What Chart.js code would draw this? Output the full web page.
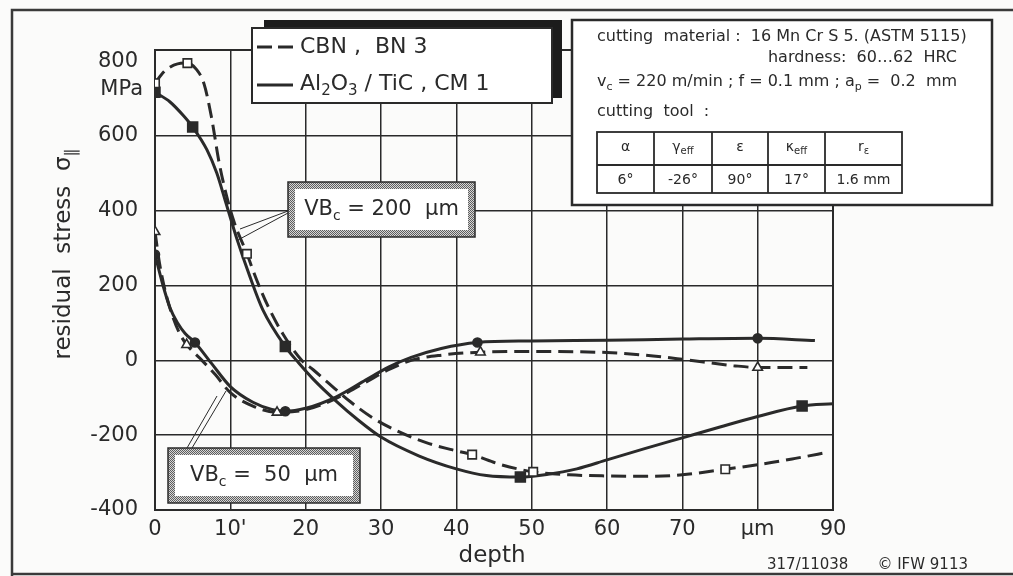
<!DOCTYPE html>
<html>
<head>
<meta charset="utf-8">
<title>Residual stress vs depth</title>
<script src="https://cdn.jsdelivr.net/npm/chart.js@4.4.1/dist/chart.umd.min.js"></script>
<style>
  html, body { margin: 0; padding: 0; background: #fbfbfa; }
  #wrap { width: 1013px; height: 576px; }
</style>
</head>
<body>
<div id="wrap"><canvas id="stressChart" width="1013" height="576"></canvas></div>
<script>
// depth axis labels (80 carries the unit)
const depthTicks = [0, 10, 20, 30, 40, 50, 60, 70, 80, 90];
const depthTickLabels = ['0', "10'", '20', '30', '40', '50', '60', '70', 'µm', '90'];
// stress axis labels
const stressTicks = [-400, -200, 0, 200, 400, 600, 800];

// CBN, BN 3 at VBc = 200 µm (dashed, open squares)
const cbn200Depth  = [0, 1.2, 3, 4.3, 5.5, 6.5, 7.5, 8.5, 9.5, 10.5, 12.2, 13.5, 15, 17, 19.5, 21, 23, 25.9, 29, 32.5, 36, 39.2, 42.1, 45.8, 50.2, 55, 60, 65, 70, 75.7, 80.7, 85, 89.5];
const cbn200Stress = [741, 772, 793, 795, 778, 740, 650, 530, 440, 370, 285, 215, 145, 70, 0, -25, -60, -110, -155, -192, -220, -238, -252, -278, -298, -306, -309, -310, -306, -291, -277, -262, -245];
const cbn200Marks  = [0, 3, 10, 22, 24, 29];

// Al2O3/TiC, CM 1 at VBc = 200 µm (solid, filled squares)
const al200Depth  = [0, 2, 3.7, 5, 6.9, 8.2, 9.3, 10.9, 12.6, 14.3, 17.3, 19, 21, 24, 27, 30, 35, 40, 44, 48.5, 52, 56, 60, 65, 70, 75, 80, 85.9, 90];
const al200Stress = [717, 691, 656, 624, 563, 501, 429, 323, 224, 136, 37, -5, -50, -108, -160, -205, -255, -290, -308, -312, -305, -290, -266, -236, -207, -178, -150, -122, -116];
const al200Marks  = [0, 3, 10, 19, 27];

// CBN, BN 3 at VBc = 50 µm (dashed, open triangles)
const cbn50Depth  = [0, 0.6, 1.3, 2.3, 3.2, 4.2, 6, 8, 10, 13, 16.2, 20, 24, 28, 31, 34, 38, 43.2, 50, 60, 65, 70, 76.8, 80, 86.6];
const cbn50Stress = [344, 260, 190, 120, 75, 42, 5, -38, -86, -122, -139, -132, -102, -58, -25, 0, 14, 22, 24, 21, 14, 3, -14, -19, -19];
const cbn50Marks  = [0, 5, 10, 17, 23];

// Al2O3/TiC, CM 1 at VBc = 50 µm (solid, filled circles)
const al50Depth  = [0, 1, 2, 3, 4, 5.3, 7.5, 10, 13, 15.5, 17.3, 20, 24, 28, 31, 34, 38, 42.8, 50, 60, 70, 80, 87.6];
const al50Stress = [283, 205, 140, 100, 72, 48, -8, -70, -112, -131, -136, -128, -98, -52, -18, 8, 32, 48, 52, 54, 57, 59, 53];
const al50Marks  = [0, 5, 10, 17, 21];

// tool parameter table
const toolHeads  = [['α'], ['γ', 'eff'], ['ε'], ['κ', 'eff'], ['r', 'ε']];
const toolValues = ['6°', '-26°', '90°', '17°', '1.6 mm'];

const INK = '#2a2a2a';
const FONT = 'DejaVu Sans';

function toPoints(xs, ys) {
  return xs.map((x, i) => ({ x: x, y: ys[i] }));
}

function markRadius(xs, marks, r) {
  return xs.map((x, i) => marks.indexOf(i) >= 0 ? r : 0);
}

function curve(label, xs, ys, marks, style, filled, r, dashed) {
  return {
    label: label,
    data: toPoints(xs, ys),
    borderColor: INK,
    borderWidth: 3,
    borderDash: dashed ? [15, 7] : [],
    cubicInterpolationMode: 'monotone',
    fill: false,
    pointStyle: style,
    pointRadius: markRadius(xs, marks, r),
    pointHoverRadius: 0,
    pointBackgroundColor: filled ? INK : '#ffffff',
    pointBorderColor: INK,
    pointBorderWidth: 1.6
  };
}

// text with subscripts: parts = [[text, 'sub'?], ...]
function richWidth(ctx, parts, size) {
  let w = 0;
  parts.forEach(p => {
    ctx.font = (p[1] === 'sub' ? Math.round(size * 0.68) : size) + 'px ' + FONT;
    w += ctx.measureText(p[0]).width;
  });
  return w;
}

function drawRich(ctx, parts, x, y, size, align) {
  ctx.save();
  ctx.textBaseline = 'middle';
  ctx.textAlign = 'left';
  let cx = x;
  if (align === 'center') cx = x - richWidth(ctx, parts, size) / 2;
  if (align === 'right') cx = x - richWidth(ctx, parts, size);
  parts.forEach(p => {
    const sub = p[1] === 'sub';
    ctx.font = (sub ? Math.round(size * 0.68) : size) + 'px ' + FONT;
    ctx.fillText(p[0], cx, sub ? y + size * 0.32 : y);
    cx += ctx.measureText(p[0]).width;
  });
  ctx.restore();
}

function stipple(ctx) {
  const c = document.createElement('canvas');
  c.width = 2; c.height = 2;
  const g = c.getContext('2d');
  g.fillStyle = '#d6d6d6'; g.fillRect(0, 0, 2, 2);
  g.fillStyle = '#5e5e5e'; g.fillRect(0, 0, 1, 1); g.fillRect(1, 1, 1, 1);
  return ctx.createPattern(c, 'repeat');
}

function labelBox(ctx, x, y, w, h, parts) {
  ctx.save();
  ctx.fillStyle = stipple(ctx);
  ctx.fillRect(x, y, w, h);
  ctx.fillStyle = '#ffffff';
  ctx.fillRect(x + 7, y + 7, w - 14, h - 14);
  ctx.strokeStyle = INK;
  ctx.lineWidth = 1.5;
  ctx.strokeRect(x, y, w, h);
  ctx.fillStyle = INK;
  drawRich(ctx, parts, x + w / 2, y + h / 2, 21, 'center');
  ctx.restore();
}

function pointer(ctx, x0, y0, x1, y1) {
  ctx.beginPath();
  ctx.moveTo(x0, y0);
  ctx.lineTo(x1, y1);
  ctx.stroke();
}

const figureDecor = {
  id: 'figureDecor',
  beforeDraw(chart) {
    const ctx = chart.ctx;
    ctx.save();
    ctx.fillStyle = '#fbfbfa';
    ctx.fillRect(0, 0, chart.width, chart.height);
    // outer figure frame
    ctx.strokeStyle = '#3a3a3a';
    ctx.lineWidth = 2.5;
    ctx.beginPath();
    ctx.moveTo(1013, 10); ctx.lineTo(12, 10); ctx.lineTo(12, 576);
    ctx.moveTo(12, 574); ctx.lineTo(1013, 574);
    ctx.stroke();
    ctx.restore();
  },
  beforeDatasetsDraw(chart) {
    const ctx = chart.ctx, a = chart.chartArea;
    ctx.save();
    ctx.strokeStyle = INK;
    ctx.lineWidth = 2;
    ctx.strokeRect(a.left, a.top, a.right - a.left, a.bottom - a.top);
    ctx.restore();
  },
  afterDraw(chart) {
    const ctx = chart.ctx;
    ctx.save();
    ctx.fillStyle = INK;
    ctx.strokeStyle = INK;

    // axis titles and unit
    drawRich(ctx, [['MPa']], 143, 90, 21, 'right');
    drawRich(ctx, [['depth']], 492, 556, 23, 'center');
    ctx.save();
    ctx.translate(64, 254);
    ctx.rotate(-Math.PI / 2);
    drawRich(ctx, [['residual  stress  σ'], ['∥', 'sub']], 0, 0, 23, 'center');
    ctx.restore();

    // legend box with heavy shadow
    ctx.fillStyle = '#1c1c1c';
    ctx.fillRect(264, 20, 298, 78);
    ctx.fillStyle = '#ffffff';
    ctx.fillRect(252, 28, 300, 75);
    ctx.lineWidth = 2;
    ctx.strokeRect(252, 28, 300, 75);
    ctx.lineWidth = 3;
    ctx.setLineDash([15, 6]);
    pointer(ctx, 257, 47, 293, 47);
    ctx.setLineDash([]);
    pointer(ctx, 257, 85, 293, 85);
    ctx.fillStyle = INK;
    drawRich(ctx, [['CBN ,  BN 3']], 300, 47, 22, 'left');
    drawRich(ctx, [['Al'], ['2', 'sub'], ['O'], ['3', 'sub'], [' / TiC , CM 1']], 300, 84, 22, 'left');

    // cutting conditions box
    ctx.fillStyle = '#ffffff';
    ctx.fillRect(572, 20, 420, 185);
    ctx.lineWidth = 2.5;
    ctx.strokeRect(572, 20, 420, 185);
    ctx.fillStyle = INK;
    drawRich(ctx, [['cutting  material :  16 Mn Cr S 5. (ASTM 5115)']], 597, 37, 16, 'left');
    drawRich(ctx, [['hardness:  60…62  HRC']], 957, 58, 16, 'right');
    drawRich(ctx, [['v'], ['c', 'sub'], [' = 220 m/min ; f = 0.1 mm ; a'], ['p', 'sub'], [' =  0.2  mm']], 597, 82, 16, 'left');
    drawRich(ctx, [['cutting  tool  :']], 597, 112, 16, 'left');

    const cols = [597, 654, 712, 768, 825, 902];
    const rows = [132, 165, 193];
    ctx.lineWidth = 1.8;
    ctx.strokeRect(cols[0], rows[0], cols[5] - cols[0], rows[2] - rows[0]);
    pointer(ctx, cols[0], rows[1], cols[5], rows[1]);
    for (let i = 1; i < 5; i++) pointer(ctx, cols[i], rows[0], cols[i], rows[2]);
    toolHeads.forEach((h, i) => {
      const cx = (cols[i] + cols[i + 1]) / 2;
      const parts = [[h[0]]];
      if (h[1]) parts.push([h[1], 'sub']);
      drawRich(ctx, parts, cx, 147, 14, 'center');
      drawRich(ctx, [[toolValues[i]]], cx, 180, 14, 'center');
    });

    // VBc labels with pointers to their curve pairs
    ctx.lineWidth = 1;
    pointer(ctx, 288, 211, 240, 229);
    pointer(ctx, 288, 213, 238, 240);
    pointer(ctx, 187, 448, 217, 396);
    pointer(ctx, 192, 448, 226, 391);
    labelBox(ctx, 288, 182, 187, 55, [['VB'], ['c', 'sub'], [' = 200  µm']]);
    labelBox(ctx, 168, 448, 192, 55, [['VB'], ['c', 'sub'], [' =  50  µm']]);

    // figure reference
    ctx.fillStyle = INK;
    drawRich(ctx, [['317/11038']], 767, 565, 15, 'left');
    drawRich(ctx, [['© IFW 9113']], 968, 565, 15, 'right');
    ctx.restore();
  }
};

const stressChart = new Chart(document.getElementById('stressChart'), {
  type: 'line',
  data: {
    datasets: [
      curve('CBN, BN 3 (VBc = 200 µm)', cbn200Depth, cbn200Stress, cbn200Marks, 'rect', false, 6, true),
      curve('Al2O3/TiC, CM 1 (VBc = 200 µm)', al200Depth, al200Stress, al200Marks, 'rect', true, 7, false),
      curve('CBN, BN 3 (VBc = 50 µm)', cbn50Depth, cbn50Stress, cbn50Marks, 'triangle', false, 5.5, true),
      curve('Al2O3/TiC, CM 1 (VBc = 50 µm)', al50Depth, al50Stress, al50Marks, 'circle', true, 4.5, false)
    ]
  },
  options: {
    responsive: false,
    devicePixelRatio: 1,
    animation: false,
    layout: { padding: { left: 0, right: 180, top: 50, bottom: 0 } },
    plugins: {
      legend: { display: false },
      tooltip: { enabled: false }
    },
    scales: {
      x: {
        type: 'linear',
        min: 0,
        max: 90,
        afterFit: s => { s.height = 66; },
        afterBuildTicks: s => { s.ticks = depthTicks.map(v => ({ value: v })); },
        ticks: {
          color: INK,
          padding: 7,
          maxRotation: 0,
          font: { family: FONT, size: 21 },
          callback: v => depthTickLabels[depthTicks.indexOf(v)]
        },
        grid: { color: INK, lineWidth: 1.5, drawTicks: false },
        border: { display: true, color: INK, width: 2 }
      },
      y: {
        type: 'linear',
        min: -400,
        max: 830,
        afterFit: s => { s.width = 155; },
        afterBuildTicks: s => { s.ticks = stressTicks.map(v => ({ value: v })); },
        ticks: {
          color: INK,
          padding: 17,
          font: { family: FONT, size: 21 },
          callback: v => String(v)
        },
        grid: {
          color: c => c.tick && c.tick.value === 800 ? 'rgba(0,0,0,0)' : INK,
          lineWidth: 1.5,
          drawTicks: false
        },
        border: { display: true, color: INK, width: 2 }
      }
    }
  },
  plugins: [figureDecor]
});
</script>
</body>
</html>
